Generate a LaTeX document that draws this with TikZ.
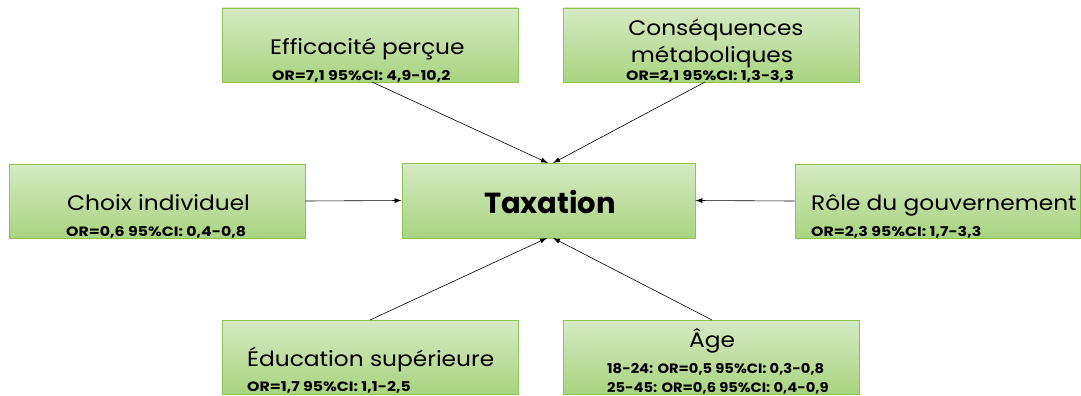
\documentclass[tikz,border=0pt]{standalone}
\usepackage{fontspec}
\setmainfont{Poppins}
\newfontfamily\widettl{Poppins}[FakeStretch=1.11]
\newfontfamily\wideor{Poppins}[FakeStretch=1.17]
\newfontfamily\wideage{Poppins}[FakeStretch=1.09]
\usetikzlibrary{arrows.meta}
\definecolor{boxtop}{RGB}{214,234,196}
\definecolor{boxbot}{RGB}{168,212,128}
\definecolor{boxline}{RGB}{140,196,84}
\tikzset{
  box/.style={draw=boxline, line width=0.9pt, top color=boxtop, bottom color=boxbot, minimum width=296pt, minimum height=74pt, inner sep=0pt},
  ttl/.style={inner sep=0pt, font=\widettl\fontsize{21}{25}\selectfont, anchor=base west},
  orl/.style={inner sep=0pt, font=\wideor\fontsize{13.5}{16}\selectfont\bfseries, anchor=base west},
  agel/.style={inner sep=0pt, font=\wideage\fontsize{13.5}{16}\selectfont\bfseries, anchor=base west},
  conn/.style={line width=0.6pt, -{Latex[length=7pt,width=5pt]}}
}
\begin{document}
\begin{tikzpicture}[x=1pt,y=-1pt]
\useasboundingbox (0,0) rectangle (1081,396);
% boxes
\node[box] (eff) at (370,45) {};
\node[box] (cons) at (711.5,45) {};
\node[box] (choix) at (157,201) {};
\node[box, minimum width=285pt] (role) at (937.5,201) {};
\node[box, minimum width=293pt, minimum height=75pt] (tax) at (548.5,200.5) {};
\node[box] (edu) at (370,357) {};
\node[box] (age) at (711.5,357) {};
% texts
\node[ttl] (efft) at (270,55) {Efficacité perçue};
\node[orl] (effo) at (272,81) {OR=7,1 95\%CI: 4,9-10,2};
\node[ttl, anchor=base] (const1) at (716,36) {Conséquences};
\node[ttl, anchor=base] (const2) at (712,63) {métaboliques};
\node[orl, anchor=base] (conso) at (710,81) {OR=2,1 95\%CI: 1,3-3,3};
\node[ttl] (choixt) at (67,210) {Choix individuel};
\node[orl] (choixo) at (66,236) {OR=0,6 95\%CI: 0,4-0,8};
\node[ttl] (rolet) at (811,210) {Rôle du gouvernement};
\node[orl] (roleo) at (811,236) {OR=2,3 95\%CI: 1,7-3,3};
\node[inner sep=0pt, anchor=base, font=\fontsize{29}{34}\selectfont\bfseries] (taxt) at (550,213) {Taxation};
\node[ttl] (edut) at (247,366) {Éducation supérieure};
\node[orl] (eduo) at (247,391) {OR=1,7 95\%CI: 1,1-2,5};
\node[ttl, anchor=base] (aget) at (712,347) {Âge};
\node[agel] (ageo1) at (607,373) {18-24: OR=0,5 95\%CI: 0,3-0,8};
\node[agel] (ageo2) at (607,392) {25-45: OR=0,6 95\%CI: 0,4-0,9};
% connector anchor points
\coordinate (effs) at (372,82);
\coordinate (conss) at (705,82);
\coordinate (edus) at (370,320);
\coordinate (ages) at (712,320);
\coordinate (taxtl) at (548,163);
\coordinate (taxtr) at (553,163);
\coordinate (taxbl) at (547,238);
\coordinate (taxbr) at (553,238);
\draw[conn] (effs) -- (taxtl);
\draw[conn] (conss) -- (taxtr);
\draw[conn] (choix.east) -- (tax.west);
\draw[conn] (role.west) -- (tax.east);
\draw[conn] (edus) -- (taxbl);
\draw[conn] (ages) -- (taxbr);
\end{tikzpicture}
\end{document}
